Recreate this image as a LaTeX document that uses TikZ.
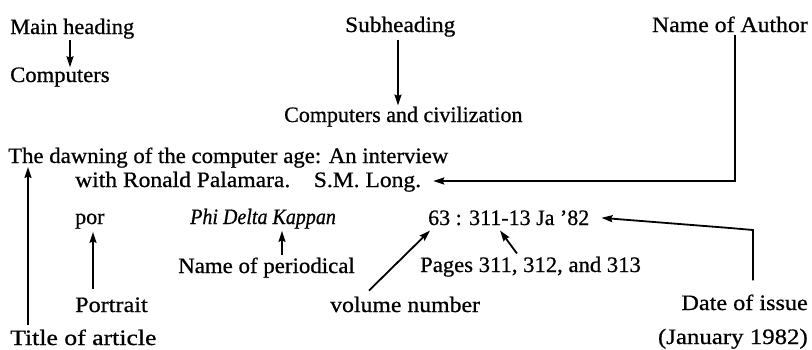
\documentclass[tikz,border=0pt]{standalone}
\usepackage{graphicx}
\usepackage{fontspec}
\setmainfont{Liberation Serif}[UprightFeatures={FakeBold=0.7},ItalicFeatures={FakeBold=0.7}]
\usetikzlibrary{arrows.meta}
% horizontal stretch of a label
\newcommand{\hsc}[2]{\scalebox{#1}[1]{#2}}
\begin{document}
\begin{tikzpicture}[x=1pt,y=-1pt,
  txt/.style={inner sep=0pt,anchor=base west,font=\fontsize{22}{26}\selectfont},
  txtr/.style={txt,anchor=base east},
  arr/.style={line width=1.8pt,-{Stealth[length=11pt,width=7pt,inset=1.5pt]}}]
\useasboundingbox (0,0) rectangle (812,349);
% headings
\node[txt] (mh) at (10,34) {\hsc{1.02}{Main heading}};
\node[txt] (comp) at (10,82) {\hsc{1.03}{Computers}};
\node[txt] (sub) at (345,32) {\hsc{1.06}{Subheading}};
\node[txt] (civ) at (284,122) {\hsc{1.0}{Computers and civilization}};
\node[txtr] (auth) at (808,32) {\hsc{1.08}{Name of Author}};
% the entry itself
\node[txt] (dawn) at (8,163) {\hsc{1.035}{The dawning of the computer age: An interview}};
\node[txt] (with) at (75,187) {\hsc{1.07}{with Ronald Palamara.\quad S.M. Long.}};
\node[txt] (por) at (75,224) {por};
\node[txt] (phi) at (190,224) {\hsc{0.91}{\itshape Phi Delta Kappan}};
\node[txt] (cite) at (428,225) {63 : 311-13 Ja '82};
% explanations below
\node[txt] (per) at (178,273) {\hsc{1.04}{Name of periodical}};
\node[txt] (pg) at (420,272) {\hsc{1.03}{Pages 311, 312, and 313}};
\node[txt] (port) at (75,312) {\hsc{1.1}{Portrait}};
\node[txt] (vol) at (330,312) {\hsc{1.08}{volume number}};
\node[txtr] (date) at (808,310) {\hsc{1.1}{Date of issue}};
\node[txt] (ttl) at (10,345) {\hsc{1.17}{Title of article}};
\node[txtr] (jan) at (808,344) {\hsc{1.13}{(January 1982)}};
% connectors
\draw[arr] ([yshift=-1pt]mh.south -| 70,0) -- (comp.north -| 70,0);
\draw[arr] ([yshift=-3pt]sub.south -| 398,0) -- ([yshift=1pt]civ.north -| 398,0);
\draw[arr] ([yshift=-3pt]auth.south -| 735,0) -- (735,181)
  -- ([xshift=12pt]with.east |- 0,181);
\draw[arr] ([yshift=4pt]ttl.north -| 28,0) -- ([yshift=1pt]dawn.south -| 28,0);
\draw[arr] ([yshift=8pt]port.north -| 93,0) -- ([yshift=-3pt]por.south -| 93,0);
\draw[arr] ([yshift=2pt]per.north -| 282,0) -- ([yshift=-2pt]phi.south -| 282,0);
\draw[arr] ([yshift=6pt]vol.north -| 369,0) -- ([xshift=2pt,yshift=-5pt]cite.south west);
\draw[arr] ([yshift=3pt]pg.north -| 517,0) -- ([xshift=72pt,yshift=-5pt]cite.south west);
\draw[arr] ([yshift=14pt]date.north -| 753,0) -- (753,230) -- (730,228)
  -- ([xshift=12pt]cite.east);
\end{tikzpicture}
\end{document}
